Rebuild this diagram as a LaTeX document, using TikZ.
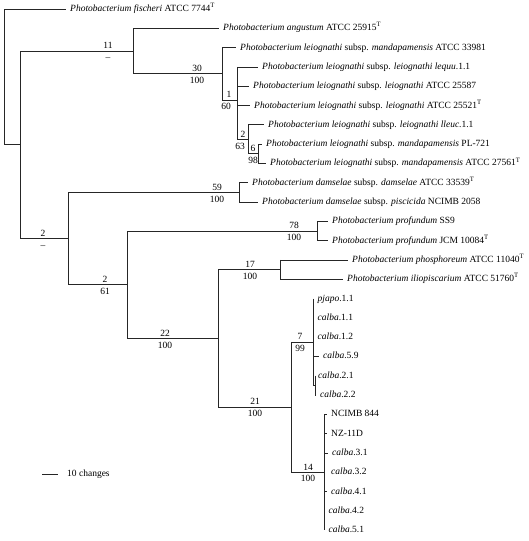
\documentclass[tikz,border=0pt]{standalone}
\usepackage{fontspec}
\setmainfont{Liberation Serif}
\begin{document}
\begin{tikzpicture}[x=1pt,y=-1pt,
  leaf/.style={anchor=west, inner sep=0pt, font=\fontsize{9.5}{11}\selectfont, text height=7pt, text depth=2pt},
  lblup/.style={anchor=south, inner sep=0pt, yshift=2pt, font=\fontsize{9.5}{11}\selectfont, text height=6.5pt, text depth=0pt},
  lbldn/.style={anchor=north, inner sep=0pt, yshift=-3pt, font=\fontsize{9.5}{11}\selectfont, text height=6.5pt, text depth=0pt},
  br/.style={line width=0.8pt, black!85}]
\useasboundingbox (0,0) rectangle (528,541);
\newcommand\lf[2]{\draw[br] (#1 |- #2.west) -- ([xshift=-4.5pt]#2.west);}
\newcommand\ie[2]{\draw[br] (#1 |- #2) -- (#2);}
\newcommand\vt[3]{\draw[br] (#1 |- #2) -- (#1 |- #3);}
% internal nodes
\coordinate (R) at (4.5,144.75);
\coordinate (A) at (20,144.75);
\coordinate (B) at (133,51);
\coordinate (D) at (222,73.8);
\coordinate (E) at (237,100);
\coordinate (F) at (248,139.3);
\coordinate (G6) at (258,153.75);
\coordinate (Dm) at (239,192.35);
\coordinate (G) at (68,238.5);
\coordinate (H) at (127,284.65);
\coordinate (I) at (317,231);
\coordinate (J) at (218,338.3);
\coordinate (K) at (280,269.55);
\coordinate (L) at (291,407.05);
\coordinate (M) at (313,341.9);
\coordinate (N) at (315,385.35);
\coordinate (O) at (324,472.2);
% leaves
\node[leaf] (fis) at (70,9) {\textit{Photobacterium fischeri} ATCC 7744\textsuperscript{T}};
\node[leaf] (ang) at (223,28.3) {\textit{Photobacterium angustum} ATCC 25915\textsuperscript{T}};
\node[leaf] (m33981) at (240,47.6) {\textit{Photobacterium leiognathi} subsp. \textit{mandapamensis} ATCC 33981};
\node[leaf] (lequu) at (262,66.9) {\textit{Photobacterium leiognathi} subsp. \textit{leiognathi lequu}.1.1};
\node[leaf] (a25587) at (253,86.2) {\textit{Photobacterium leiognathi} subsp. \textit{leiognathi} ATCC 25587};
\node[leaf] (a25521) at (254,105.5) {\textit{Photobacterium leiognathi} subsp. \textit{leiognathi} ATCC 25521\textsuperscript{T}};
\node[leaf] (lleuc) at (268,124.8) {\textit{Photobacterium leiognathi} subsp. \textit{leiognathi lleuc}.1.1};
\node[leaf] (pl721) at (266,144.1) {\textit{Photobacterium leiognathi} subsp. \textit{mandapamensis} PL-721};
\node[leaf] (a27561) at (270,163.4) {\textit{Photobacterium leiognathi} subsp. \textit{mandapamensis} ATCC 27561\textsuperscript{T}};
\node[leaf] (dams) at (252,182.7) {\textit{Photobacterium damselae} subsp. \textit{damselae} ATCC 33539\textsuperscript{T}};
\node[leaf] (pisc) at (262,202) {\textit{Photobacterium damselae} subsp. \textit{piscicida} NCIMB 2058};
\node[leaf] (ss9) at (332,221.3) {\textit{Photobacterium profundum} SS9};
\node[leaf] (jcm) at (332,240.6) {\textit{Photobacterium profundum} JCM 10084\textsuperscript{T}};
\node[leaf] (phos) at (352,259.9) {\textit{Photobacterium phosphoreum} ATCC 11040\textsuperscript{T}};
\node[leaf] (ilio) at (347,279.2) {\textit{Photobacterium iliopiscarium} ATCC 51760\textsuperscript{T}};
\node[leaf] (pjapo) at (317.5,298.5) {\textit{pjapo}.1.1};
\node[leaf] (c11) at (317.5,317.8) {\textit{calba}.1.1};
\node[leaf] (c12) at (317.5,337.1) {\textit{calba}.1.2};
\node[leaf] (c59) at (323,356.4) {\textit{calba}.5.9};
\node[leaf] (c21) at (318,375.7) {\textit{calba}.2.1};
\node[leaf] (c22) at (320,395) {\textit{calba}.2.2};
\node[leaf] (ncimb) at (331,414.3) {NCIMB 844};
\node[leaf] (nz) at (331,433.6) {NZ-11D};
\node[leaf] (c31) at (332,452.9) {\textit{calba}.3.1};
\node[leaf] (c32) at (331,472.2) {\textit{calba}.3.2};
\node[leaf] (c41) at (331,491.5) {\textit{calba}.4.1};
\node[leaf] (c42) at (328.5,510.8) {\textit{calba}.4.2};
\node[leaf] (c51) at (328.5,530.1) {\textit{calba}.5.1};
% verticals
\vt{R}{fis.west}{A}
\vt{A}{B}{G}
\vt{B}{ang.west}{D}
\vt{D}{m33981.west}{E}
\vt{E}{lequu.west}{F}
\vt{F}{lleuc.west}{G6}
\vt{G6}{pl721.west}{a27561.west}
\vt{Dm}{dams.west}{pisc.west}
\vt{G}{Dm}{H}
\vt{H}{I}{J}
\vt{I}{ss9.west}{jcm.west}
\vt{J}{K}{L}
\vt{K}{phos.west}{ilio.west}
\vt{L}{M}{O}
\vt{M}{pjapo.west}{N}
\vt{N}{c21.west}{c22.west}
\vt{O}{ncimb.west}{c51.west}
% horizontals
\lf{R}{fis} \ie{R}{A}
\ie{A}{B} \ie{A}{G}
\lf{B}{ang} \ie{B}{D}
\lf{D}{m33981} \ie{D}{E}
\lf{E}{lequu} \lf{E}{a25587} \lf{E}{a25521} \ie{E}{F}
\lf{F}{lleuc} \ie{F}{G6}
\lf{G6}{pl721} \lf{G6}{a27561}
\ie{G}{Dm} \ie{G}{H}
\lf{Dm}{dams} \lf{Dm}{pisc}
\ie{H}{I} \ie{H}{J}
\lf{I}{ss9} \lf{I}{jcm}
\ie{J}{K} \ie{J}{L}
\lf{K}{phos} \lf{K}{ilio}
\ie{L}{M} \ie{L}{O}
\lf{M}{c59} \ie{M}{N}
\lf{N}{c22}
\lf{O}{ncimb} \lf{O}{nz} \lf{O}{c31} \lf{O}{c41}
% support labels
\node[lblup] (lB1) at (108,51) {11}; \node[lbldn] (lB2) at (108,51) {--};
\node[lblup] (lD1) at (197,73.8) {30}; \node[lbldn] (lD2) at (197,73.8) {100};
\node[lblup] (lE1) at (229,100) {1}; \node[lbldn] (lE2) at (226,100) {60};
\node[lblup] (lF1) at (243,139.3) {2}; \node[lbldn] (lF2) at (240,139.3) {63};
\node[lblup] (lG61) at (253,153.75) {6}; \node[lbldn] (lG62) at (253,153.75) {98};
\node[lblup] (lDm1) at (217,192.35) {59}; \node[lbldn] (lDm2) at (217,192.35) {100};
\node[lblup] (lG1) at (43,238.5) {2}; \node[lbldn] (lG2) at (43,238.5) {--};
\node[lblup] (lH1) at (105,284.65) {2}; \node[lbldn] (lH2) at (105,284.65) {61};
\node[lblup] (lI1) at (294,231) {78}; \node[lbldn] (lI2) at (294,231) {100};
\node[lblup] (lJ1) at (165,338.3) {22}; \node[lbldn] (lJ2) at (165,338.3) {100};
\node[lblup] (lK1) at (250,269.55) {17}; \node[lbldn] (lK2) at (250,269.55) {100};
\node[lblup] (lL1) at (255,407.05) {21}; \node[lbldn] (lL2) at (255,407.05) {100};
\node[lblup] (lM1) at (300,341.9) {7}; \node[lbldn] (lM2) at (300,341.9) {99};
\node[lblup] (lO1) at (308,472.2) {14}; \node[lbldn] (lO2) at (308,472.2) {100};
% scale bar
\coordinate (s1) at (42,474);
\coordinate (s2) at (58,474);
\draw[br] (s1) -- (s2);
\node[leaf] (sc) at (67,474) {10 changes};
\end{tikzpicture}
\end{document}
